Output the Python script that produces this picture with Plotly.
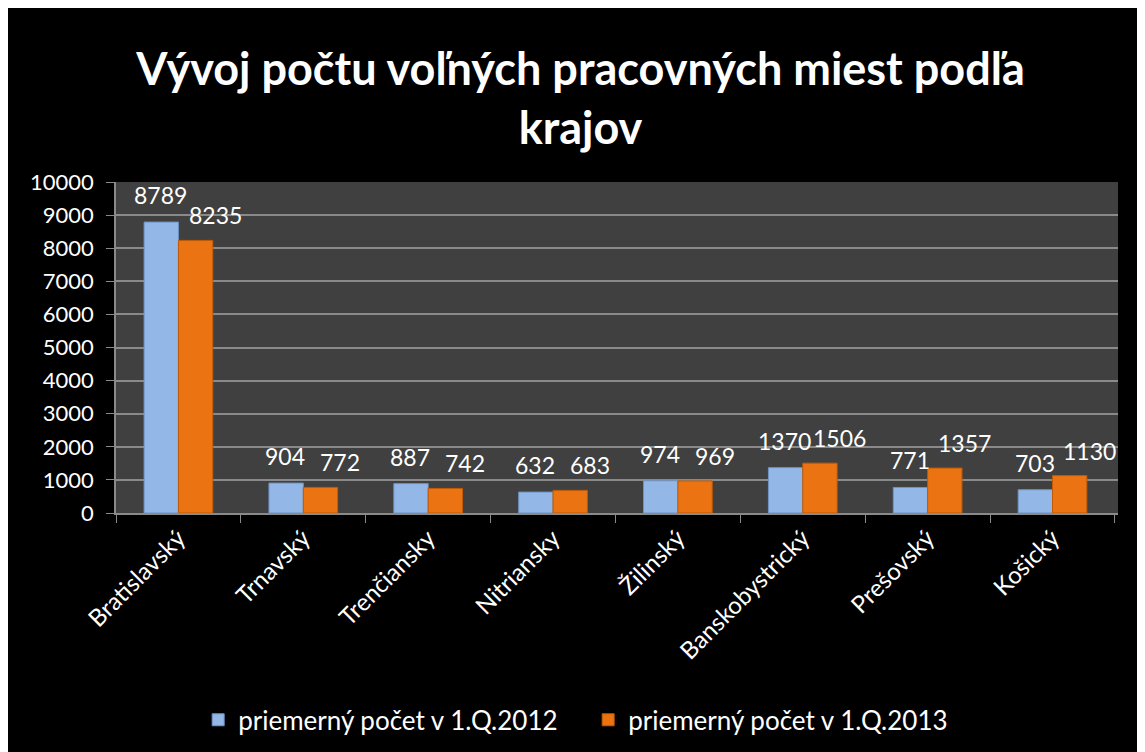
import plotly.graph_objects as go

# Vývoj počtu voľných pracovných miest podľa krajov
kraje = ['Bratislavský', 'Trnavský', 'Trenčiansky', 'Nitriansky',
         'Žilinský', 'Banskobystrický', 'Prešovský', 'Košický']
pocet_2012 = [8789, 904, 887, 632, 974, 1370, 771, 703]
pocet_2013 = [8235, 772, 742, 683, 969, 1506, 1357, 1130]

nazov_2012 = 'priemerný počet v 1.Q.2012'
nazov_2013 = 'priemerný počet v 1.Q.2013'

W, H = 1145, 752
ML, MR, MT, MB = 108, 35, 174, 247

modra = '#93b7e6'
oranzova = '#ec7311'
pismo = 'Lato, Open Sans, sans-serif'

fig = go.Figure()
fig.add_trace(go.Bar(x=kraje, y=pocet_2012, name=nazov_2012,
                     marker=dict(color=modra, line=dict(color='#6f94c4', width=1))))
fig.add_trace(go.Bar(x=kraje, y=pocet_2013, name=nazov_2013,
                     marker=dict(color=oranzova, line=dict(color='#c05a06', width=1))))

# popisky hodnot nad stlpcami
popisky = []
for k, a, b in zip(kraje, pocet_2012, pocet_2013):
    popisky.append(dict(x=k, y=a, xref='x', yref='y', text=str(a), showarrow=False,
                        xshift=-18, yshift=27, yanchor='middle',
                        font=dict(color='white', size=23, family=pismo)))
    popisky.append(dict(x=k, y=b, xref='x', yref='y', text=str(b), showarrow=False,
                        xshift=37, yshift=25, yanchor='middle',
                        font=dict(color='white', size=23, family=pismo)))

fig.update_layout(
    width=W, height=H,
    margin=dict(l=ML, r=MR, t=MT, b=MB),
    paper_bgcolor='black',
    plot_bgcolor='#404040',
    barmode='group',
    bargap=0.45,
    bargroupgap=0.0,
    title=dict(text='<b>Vývoj počtu voľných pracovných miest podľa<br>krajov</b>',
               x=0.5, xanchor='center', y=0.897, yanchor='middle',
               font=dict(color='white', size=45, family=pismo)),
    font=dict(color='white', family=pismo, size=20),
    showlegend=True,
    legend=dict(orientation='h', x=0.082, xanchor='left', y=-0.625, yanchor='middle',
                font=dict(color='white', size=26, family=pismo),
                entrywidth=345, entrywidthmode='pixels',
                itemwidth=30, bgcolor='rgba(0,0,0,0)'),
    annotations=popisky,
)

fig.update_yaxes(range=[0, 10000], dtick=1000, tickformat='d', showgrid=True,
                 gridcolor='#8a8a8a', gridwidth=1.5, showline=True,
                 linecolor='#8a8a8a', linewidth=1.5,
                 ticks='outside', ticklen=8, tickcolor='#8a8a8a',
                 ticklabelstandoff=8,
                 tickfont=dict(color='white', size=22, family=pismo), zeroline=False)
fig.update_xaxes(showline=True, linecolor='#8a8a8a', linewidth=1.5,
                 ticks='outside', ticklen=8, tickcolor='#8a8a8a',
                 tickson='boundaries', tickangle=-45,
                 tickfont=dict(color='white', size=24, family=pismo))

fig.write_html('out.html')
